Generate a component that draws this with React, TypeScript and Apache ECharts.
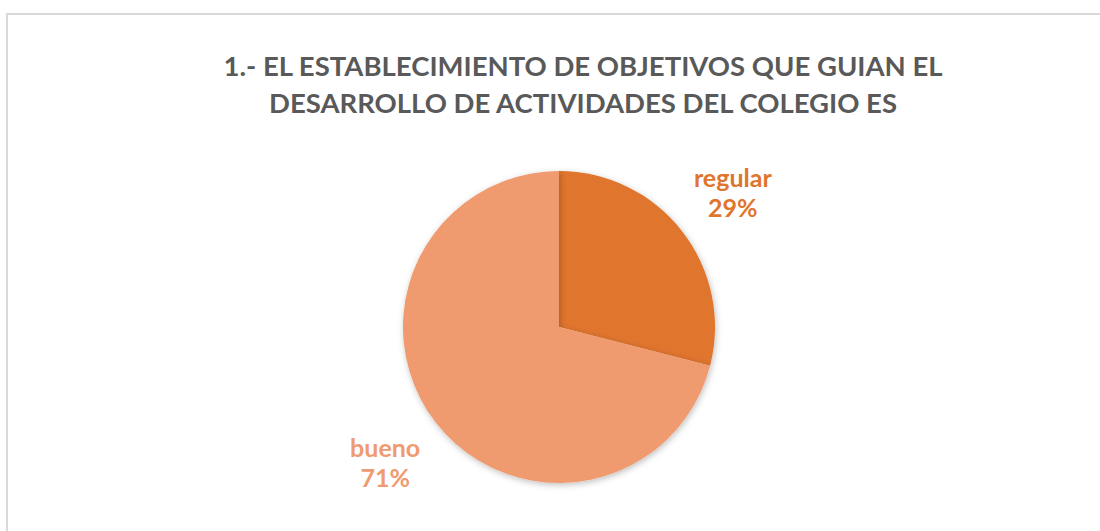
import React, { useEffect, useRef } from "react";
import * as echarts from "echarts";

const titleLines = [
  "1.- EL ESTABLECIMIENTO DE OBJETIVOS QUE GUIAN EL",
  "DESARROLLO DE ACTIVIDADES DEL COLEGIO ES",
];
const categories = ["regular", "bueno"];
const values = [29, 71];
const colors = ["#E0752D", "#F09A6F"];

const CX = 559;
const CY = 327;
const R = 156;
const LABEL_R = 220;

export default function App() {
  const ref = useRef<HTMLDivElement>(null);
  useEffect(() => {
    if (!ref.current) return;
    const chart = echarts.init(ref.current, null, { renderer: "svg" });
    const total = values.reduce((a, b) => a + b, 0);
    const mids: number[] = [];
    let acc = 0;
    values.forEach((v) => {
      mids.push(((acc + v / 2) / total) * Math.PI * 2);
      acc += v;
    });
    chart.setOption({
      animation: false,
      backgroundColor: "#ffffff",
      title: {
        text: titleLines.join("\n"),
        left: 578,
        top: 42,
        textAlign: "center",
        textStyle: {
          fontFamily: "Lato",
          fontWeight: "bold",
          fontSize: 27.5,
          lineHeight: 37,
          color: "#595959",
        },
      },
      graphic: [
        {
          type: "rect",
          shape: { x: 7, y: 14, width: 1200, height: 600 },
          style: { fill: "none", stroke: "#D9D9D9", lineWidth: 2 },
          silent: true,
        },
      ],
      series: [
        {
          type: "pie",
          center: [CX, CY],
          radius: [0, R],
          startAngle: 90,
          clockwise: true,
          data: categories.map((c, i) => ({
            name: c,
            value: values[i],
            itemStyle: { color: colors[i] },
            label: { color: colors[i] },
          })),
          itemStyle: {
            shadowBlur: 6,
            shadowColor: "rgba(0,0,0,0.25)",
            shadowOffsetX: 1,
            shadowOffsetY: 2,
          },
          labelLine: { show: false },
          label: {
            show: true,
            position: "outside",
            formatter: (p: any) => `${p.name}\n${Math.round(p.percent)}%`,
            fontFamily: "Lato",
            fontWeight: "bold",
            fontSize: 25,
            lineHeight: 30,
            align: "center",
          },
          labelLayout: (p: any) => {
            const a = mids[p.dataIndex];
            return {
              x: CX + LABEL_R * Math.sin(a),
              y: CY - LABEL_R * Math.cos(a),
              align: "center",
              verticalAlign: "middle",
            };
          },
          emphasis: { disabled: true },
        },
      ],
    });
    return () => chart.dispose();
  }, []);
  return (
    <div
      ref={ref}
      style={{ position: "fixed", left: 0, top: 0, width: 1100, height: 531 }}
    />
  );
}
